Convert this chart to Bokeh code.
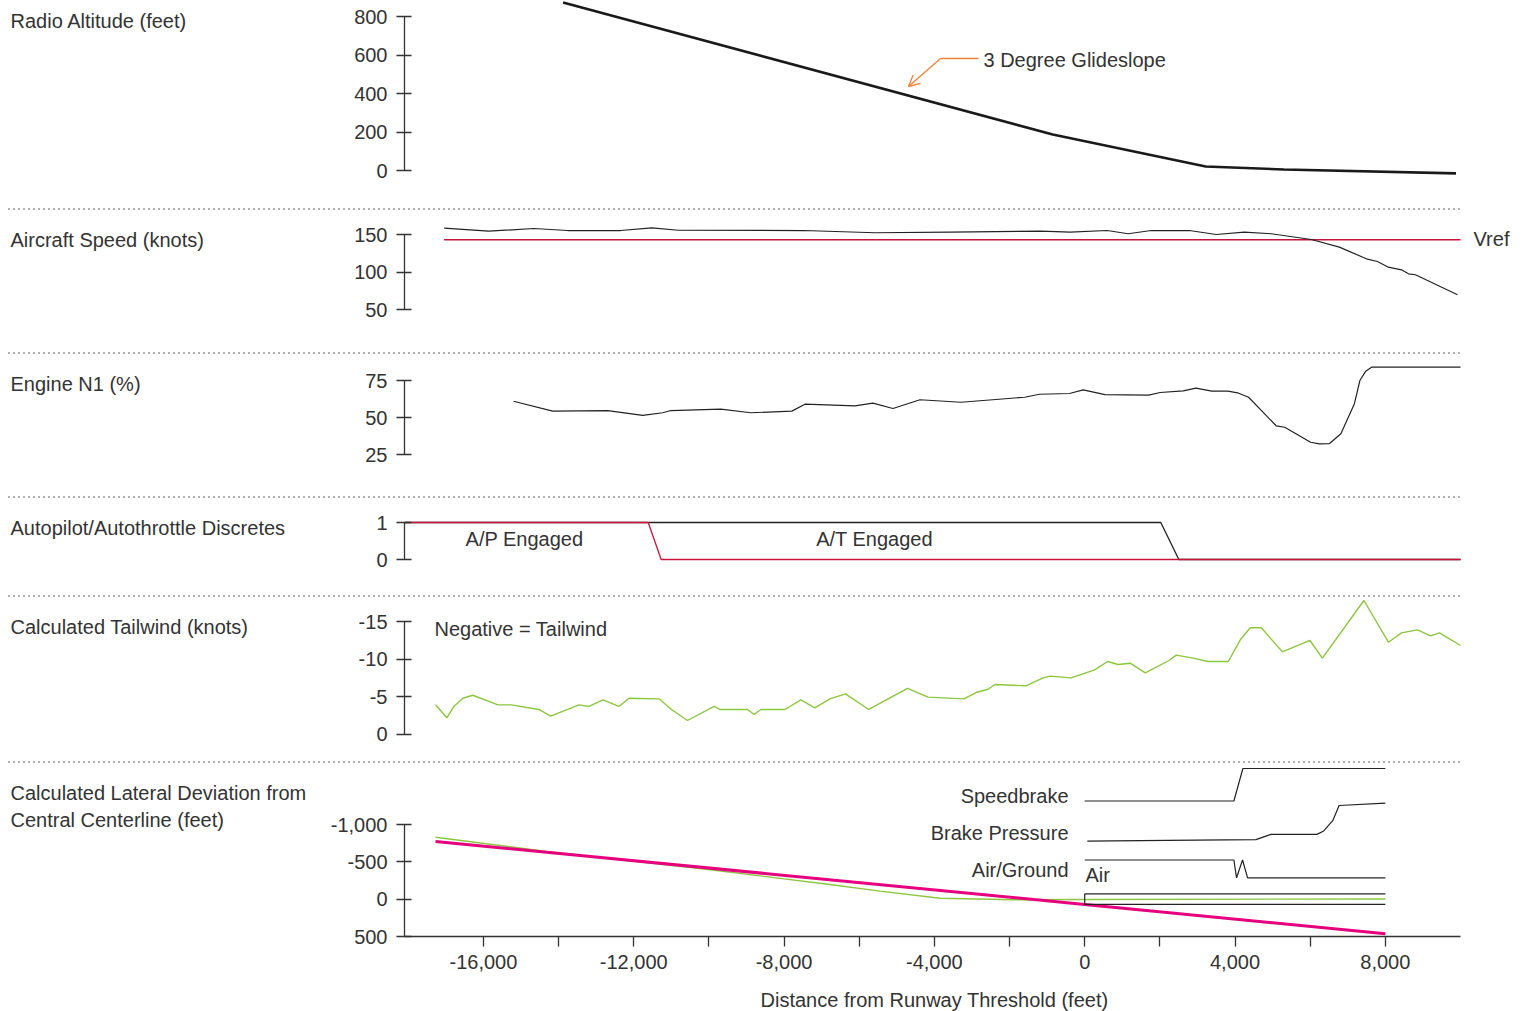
from bokeh.plotting import figure
from bokeh.layouts import column, row
from bokeh.models import (Range1d, FixedTicker, NumeralTickFormatter, Label, Arrow, OpenHead, Div)
from bokeh.embed import file_html
from bokeh.resources import INLINE

# ---------------- data ----------------
# Radio altitude (feet) vs distance from runway threshold (feet)
alt_x = [-13880, -850, 3220, 5300, 9880]
alt_ft = [873, 187, 21, 5, -15]

# Aircraft speed (knots)
spd_x = [-17045, -15863, -14664, -13758, -12347, -11521, -10813, -7483, -5582, -3584,
         -1160, -388, 598, 1157, 1770, 2782, 3501, 4247, 4966, 6031,
         6777, 7496, 7789, 8082, 8428, 8615, 8801, 9920]
spd_kt = [158.4, 154.4, 158, 155.3, 155.3, 158.9, 155.7, 155.3, 152.3, 153.1,
          154.4, 153.1, 155.3, 151, 155.3, 155.3, 150, 153.1, 151, 143.3,
          133.1, 117.6, 114, 106.4, 102.9, 97.6, 96.3, 69.6]
vref_x = [-17045, 10000]
vref_kt = [143, 143]

# Engine N1 (%)
n1_x = [-15197, -14158, -12693, -11761, -11228, -11015, -9683, -8884, -7792, -7446,
        -6114, -5635, -5102, -4383, -3291, -1597, -1203, -404, -41, 539,
        1703, 2009, 2622, 2960, 3381, 3813, 4068, 4361, 5094, 5323,
        6010, 6242, 6516, 6817, 7177, 7323, 7478, 7635, 10000]
n1_pct = [61.0, 54.3, 54.7, 51.4, 53.2, 54.7, 55.6, 53.2, 54.3, 59.0,
          57.9, 59.7, 56.1, 62.0, 60.3, 63.7, 65.7, 66.2, 68.7, 65.5,
          65.1, 66.9, 68.0, 69.8, 67.8, 67.8, 66.7, 63.7, 44.4, 43.4,
          33.3, 32.2, 32.4, 39.0, 59.3, 75.0, 81.3, 84.0, 84.0]

# Autopilot / autothrottle discretes
ap_x = [-18100, -11615, -11270, 10000]
ap_on = [1, 1, 0, 0]
at_x = [-18100, 2025, 2505, 10000]
at_on = [1, 1, 0, 0]

# Calculated tailwind (knots)
tw_x = [-17274, -16973, -16787, -16547, -16281, -15615, -15258, -14523, -14211, -13457,
        -13191, -12818, -12392, -12126, -11327, -10996, -10570, -9862, -9710, -8972,
        -8796, -8618, -7979, -7553, -7180, -6780, -6367, -5747, -4713, -4170,
        -3214, -2865, -2572, -2385, -1560, -1107, -920, -361, 265, 611,
        885, 1210, 1610, 2244, 2436, 2888, 3277, 3821, 4140, 4407,
        4700, 5259, 5994, 6324, 7430, 8082, 8428, 8855, 9201, 9441, 10000]
tw_kt = [-3.89, -2.16, -3.67, -4.77, -5.17, -3.89, -3.89, -3.27, -2.37, -3.89,
         -3.67, -4.56, -3.67, -4.77, -4.69, -3.27, -1.8, -3.67, -3.27, -3.27,
         -2.6, -3.27, -3.27, -4.56, -3.49, -4.69, -5.36, -3.27, -6.07, -4.91,
         -4.69, -5.57, -5.97, -6.6, -6.43, -7.49, -7.71, -7.49, -8.56, -9.67,
         -9.27, -9.44, -8.16, -9.8, -10.51, -10.11, -9.67, -9.67, -12.56, -14.16,
         -14.16, -10.96, -12.47, -10.11, -17.8, -12.24, -13.49, -13.89, -13.09, -13.49, -11.8]

# Lateral deviation (feet)
track_x = [-17274, -14318, -10243, -6780, -5448, -3850, -1906, 65, 8000]
track_ft = [-830, -639, -411, -197, -107, -13, 8, 4, -3]
ctr_x = [-17274, 0, 8000]
ctr_ft = [-773, 72, 463]
rwy_x = [8000, 0, 0, 8000]
rwy_ft = [-70, -70, 70, 70]

# Discrete traces on the ground roll
sb_x = [0, 3970, 4210, 8000]
sb_val = [0, 0, 1, 1]
bp_x = [70, 2200, 4555, 4955, 6180, 6360, 6600, 6770, 8000]
bp_val = [0, 0.02, 0.04, 0.18, 0.18, 0.27, 0.54, 0.94, 1.0]
ag_x = [0, 3970, 4040, 4200, 4335, 8000]
ag_val = [1, 1, 0, 1, 0, 0]

x_major = [-16000, -12000, -8000, -4000, 0, 4000, 8000]
x_minor = [-14000, -10000, -6000, -2000, 2000, 6000]

# ---------------- styling / layout ----------------
FONT = "Liberation Sans"
TXT = "#333333"
AX = "#333333"
FS = "20px"
PAGE_W = 1523
LW = 318            # width of the left label strip
X0, X1 = -18100, 10000
FL, FR = 404, 1460  # page x of the data area edges


def fx(px):
    return X0 + (px - FL) * (X1 - X0) / (FR - FL)


xr = Range1d(X0, fx(PAGE_W))


def yrange(ftop, fbot, a, b):
    (va, ya), (vb, yb) = a, b
    k = (vb - va) / (yb - ya)
    vy = lambda y: va + (y - ya) * k
    return Range1d(vy(fbot), vy(ftop)), vy


def make_panel(top, height, bb, a, b, ticks, bounds, labels, xaxis=False, fmt=None):
    ftop, fbot = top, top + height - bb
    rng, vy = yrange(ftop, fbot, a, b)
    p = figure(width=PAGE_W - LW, height=height, x_range=xr, y_range=rng,
               output_backend="svg", toolbar_location=None,
               min_border_left=FL - LW, min_border_right=0,
               min_border_top=0, min_border_bottom=bb,
               x_axis_location="below" if xaxis else None)
    p.grid.visible = False
    p.outline_line_color = None
    p.background_fill_color = "white"
    p.border_fill_color = "white"
    ax = p.yaxis[0]
    ax.ticker = FixedTicker(ticks=ticks)
    ax.bounds = bounds
    ax.formatter = fmt if fmt is not None else NumeralTickFormatter(format="0")
    ax.axis_line_color = AX
    ax.axis_line_width = 1.3
    ax.major_tick_line_color = AX
    ax.major_tick_line_width = 1.3
    ax.major_tick_in = 7
    ax.major_tick_out = 8
    ax.minor_tick_line_color = None
    ax.major_label_text_font = FONT
    ax.major_label_text_font_size = FS
    ax.major_label_text_color = TXT
    ax.major_label_standoff = 9
    p._vy = vy
    p._frame = (ftop, fbot)

    # left strip carrying the panel title(s); same frame as the panel
    lf = figure(width=LW, height=height, x_range=Range1d(0, LW),
                y_range=Range1d(fbot, ftop), output_backend="svg",
                toolbar_location=None, min_border_left=0, min_border_right=0,
                min_border_top=0, min_border_bottom=bb,
                x_axis_location=None, y_axis_location=None)
    lf.grid.visible = False
    lf.outline_line_color = None
    for (py, text) in labels:
        lf.add_layout(Label(x=10, y=py, text=text, text_font=FONT, text_font_size=FS,
                            text_color=TXT, text_align="left", text_baseline="middle"))
    return p, row(lf, p, spacing=0)


def lab(p, px, py, text, align="left"):
    p.add_layout(Label(x=fx(px), y=p._vy(py), text=text, text_font=FONT,
                       text_font_size=FS, text_color=TXT,
                       text_align=align, text_baseline="middle"))


def sep():
    return Div(text="", width=1452, height=2, margin=(0, 0, 0, 8),
               styles={"background-image": "linear-gradient(to right, #b0b0b0 40%, rgba(255,255,255,0) 0%)",
                       "background-size": "5px 2px",
                       "background-repeat": "repeat-x"})


# Panel 1: radio altitude
p1, r1 = make_panel(0, 208, 0, (0, 170), (800, 16), [0, 200, 400, 600, 800], (0, 800),
                    [(20, "Radio Altitude (feet)")])
p1.line(alt_x, alt_ft, line_color="#1a1a1a", line_width=2.6)
ORANGE = "#f0823a"
p1.add_layout(Arrow(end=None, x_start=fx(978), y_start=p1._vy(58), x_end=fx(940), y_end=p1._vy(58),
                    line_color=ORANGE, line_width=1.3))
p1.add_layout(Arrow(end=OpenHead(size=11, line_color=ORANGE, line_width=1.3),
                    x_start=fx(940), y_start=p1._vy(58), x_end=fx(908), y_end=p1._vy(86),
                    line_color=ORANGE, line_width=1.3))
lab(p1, 983, 59, "3 Degree Glideslope")

# Panel 2: aircraft speed
p2, r2 = make_panel(210, 142, 0, (150, 234), (50, 309), [50, 100, 150], (50, 150),
                    [(239, "Aircraft Speed (knots)")])
p2.line(vref_x, vref_kt, line_color="#c8143c", line_width=1.3)
p2.line(spd_x, spd_kt, line_color="#222222", line_width=1.2)
lab(p2, 1473, 238, "Vref")

# Panel 3: engine N1
p3, r3 = make_panel(354, 142, 0, (75, 380), (25, 454), [25, 50, 75], (25, 75),
                    [(383, "Engine N1 (%)")])
p3.line(n1_x, n1_pct, line_color="#222222", line_width=1.2)

# Panel 4: discretes
p4, r4 = make_panel(498, 97, 0, (1, 522), (0, 559), [0, 1], (0, 1),
                    [(527, "Autopilot/Autothrottle Discretes")])
p4.line(at_x, at_on, line_color="#222222", line_width=1.3)
p4.line(ap_x, ap_on, line_color="#c8143c", line_width=1.3)
lab(p4, 524, 538, "A/P Engaged", align="center")
lab(p4, 874, 538, "A/T Engaged", align="center")

# Panel 5: tailwind
p5, r5 = make_panel(597, 164, 0, (-15, 621), (0, 733.5), [-15, -10, -5, 0], (-15, 0),
                    [(626, "Calculated Tailwind (knots)")])
p5.line(tw_x, tw_kt, line_color="#8cc63f", line_width=1.4)
lab(p5, 434, 628, "Negative = Tailwind")

# Panel 6: lateral deviation + x axis
p6, r6 = make_panel(763, 218, 45, (-1000, 824), (500, 936), [-1000, -500, 0, 500], (-1000, 500),
                    [(792, "Calculated Lateral Deviation from"), (819, "Central Centerline (feet)")],
                    xaxis=True, fmt=NumeralTickFormatter(format="0,0"))
xa = p6.xaxis[0]
xa.bounds = (X0, X1)
xa.ticker = FixedTicker(ticks=x_major, minor_ticks=x_minor)
xa.formatter = NumeralTickFormatter(format="0,0")
xa.axis_line_color = AX
xa.axis_line_width = 1.3
xa.major_tick_line_color = AX
xa.major_tick_line_width = 1.3
xa.minor_tick_line_color = AX
xa.minor_tick_line_width = 1.3
xa.major_tick_in = 0
xa.major_tick_out = 10
xa.minor_tick_in = 0
xa.minor_tick_out = 10
xa.major_label_text_font = FONT
xa.major_label_text_font_size = FS
xa.major_label_text_color = TXT
xa.major_label_standoff = 8

ft6, fb6 = p6._frame
p6.extra_y_ranges = {
    "sb": yrange(ft6, fb6, (0, 800.5), (1, 768))[0],
    "bp": yrange(ft6, fb6, (0, 840.7), (1, 802.7))[0],
    "ag": yrange(ft6, fb6, (0, 877.3), (1, 859.5))[0],
}
p6.line(track_x, track_ft, line_color="#8cc63f", line_width=1.4)
p6.line(ctr_x, ctr_ft, line_color="#e6007e", line_width=3)
p6.line(rwy_x, rwy_ft, line_color="#222222", line_width=1.2)
p6.line(sb_x, sb_val, y_range_name="sb", line_color="#222222", line_width=1.2)
p6.line(bp_x, bp_val, y_range_name="bp", line_color="#222222", line_width=1.2)
p6.line(ag_x, ag_val, y_range_name="ag", line_color="#222222", line_width=1.2)
lab(p6, 1068, 795, "Speedbrake", align="right")
lab(p6, 1068, 832, "Brake Pressure", align="right")
lab(p6, 1068, 869, "Air/Ground", align="right")
lab(p6, 1085, 874, "Air")

# x-axis title strip, centred under the axis line
xt = figure(width=PAGE_W, height=30, x_range=Range1d(0, PAGE_W), y_range=Range1d(1011, 981),
            output_backend="svg", toolbar_location=None, min_border=0,
            x_axis_location=None, y_axis_location=None)
xt.grid.visible = False
xt.outline_line_color = None
xt.add_layout(Label(x=(FL + FR) / 2 + 2, y=999, text="Distance from Runway Threshold (feet)",
                    text_font=FONT, text_font_size=FS, text_color=TXT,
                    text_align="center", text_baseline="middle"))

layout = column(r1, sep(), r2, sep(), r3, sep(), r4, sep(), r5, sep(), r6, xt, spacing=0)

with open("out.html", "w") as f:
    f.write(file_html(layout, INLINE, title="Approach and landing data"))
